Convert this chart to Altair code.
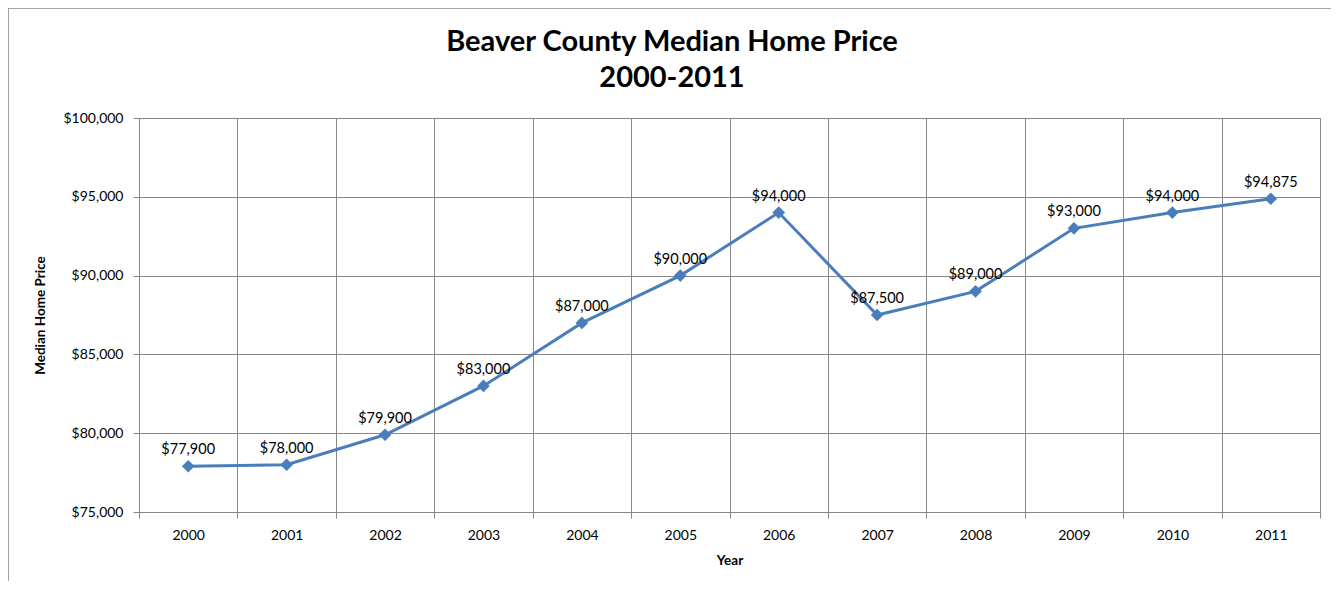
import altair as alt
import pandas as pd

years = ["2000", "2001", "2002", "2003", "2004", "2005", "2006", "2007", "2008", "2009", "2010", "2011"]
prices = [77900, 78000, 79900, 83000, 87000, 90000, 94000, 87500, 89000, 93000, 94000, 94875]
labels = ["$77,900", "$78,000", "$79,900", "$83,000", "$87,000", "$90,000", "$94,000", "$87,500", "$89,000", "$93,000", "$94,000", "$94,875"]
title_lines = ["Beaver County Median Home Price", "2000-2011"]

df = pd.DataFrame({"Year": years, "Price": prices, "Label": labels})

FONT = "Lato"
GRID = "#878787"
BLUE = "#4A7EBB"

x = alt.X("Year:O", sort=years, scale=alt.Scale(paddingInner=0, paddingOuter=0),
          axis=alt.Axis(title="Year", labelAngle=0, tickBand="extent", grid=True,
                        gridColor=GRID, domainColor=GRID, tickColor=GRID, tickSize=6,
                        labelPadding=10, labelFontSize=14, labelFont=FONT, labelColor="#000",
                        titleFont=FONT, titleFontSize=13.5, titleFontWeight="bold",
                        titleColor="#000", titleY=48, titleBaseline="middle"))
y = alt.Y("Price:Q", scale=alt.Scale(domain=[75000, 100000], nice=False, zero=False),
          axis=alt.Axis(title="Median Home Price", format="$,.0f", values=[75000, 80000, 85000, 90000, 95000, 100000],
                        grid=True, gridColor=GRID, domainColor=GRID, tickColor=GRID, tickSize=6,
                        labelPadding=10, labelFontSize=14, labelFont=FONT, labelColor="#000",
                        titleFont=FONT, titleFontSize=13.5, titleFontWeight="bold",
                        titleColor="#000", titleX=-99, titleBaseline="middle"))

base = alt.Chart(df)
one = base.transform_filter(alt.datum.Year == "2000")

frame = one.mark_rect(fill=None, stroke=GRID, strokeWidth=1.5).encode(
    x=alt.value(-131), x2=alt.value(1250), y=alt.value(-110), y2=alt.value(520)
)
title1 = one.mark_text(font=FONT, fontSize=29, fontWeight="bold", color="#000", baseline="middle",
                       text=title_lines[0]).encode(x=alt.value(533), y=alt.value(-76))
title2 = one.mark_text(font=FONT, fontSize=29, fontWeight="bold", color="#000", baseline="middle",
                       text=title_lines[1]).encode(x=alt.value(533), y=alt.value(-40))

line = base.mark_line(color=BLUE, strokeWidth=3).encode(x=x, y=y)
pts = base.mark_point(shape="diamond", filled=True, color=BLUE, size=160, opacity=1).encode(x=x, y=y)
txt = base.mark_text(font=FONT, fontSize=14.5, color="#000", baseline="bottom", dy=-9).encode(
    x=x, y=y, text="Label:N")

chart = alt.layer(frame, title1, title2, line, pts, txt).properties(
    width=1181, height=394,
    autosize=alt.AutoSizeParams(type="none"),
    padding={"left": 131, "top": 110, "right": 11, "bottom": 69},
).configure_view(stroke=GRID, strokeWidth=1)

chart.save("out.html", embed_options={"renderer": "svg", "actions": False})
